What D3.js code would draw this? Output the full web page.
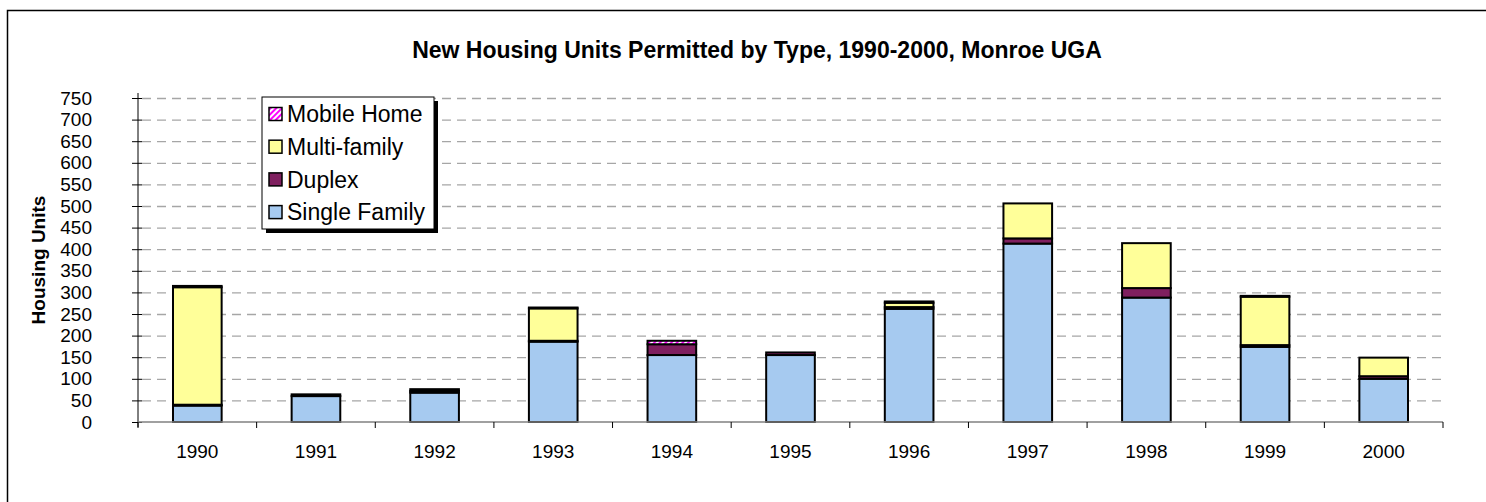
<!DOCTYPE html>
<html>
<head>
<meta charset="utf-8">
<script src="https://cdn.jsdelivr.net/npm/d3@7"></script>
<style>
  body { margin: 0; background: #fff; }
  svg { display: block; font-family: "Liberation Sans", Arial, sans-serif; }
</style>
</head>
<body>
<svg id="chart" width="1486" height="502"></svg>
<script>
const years = ["1990", "1991", "1992", "1993", "1994", "1995", "1996", "1997", "1998", "1999", "2000"];
const singleFamily = [38, 60, 68, 186, 155, 155, 262, 413, 288, 174, 100];
const duplex = [2, 4, 4, 2, 25, 6, 4, 12, 22, 4, 6];
const multiFamily = [272, 0, 0, 75, 0, 0, 10, 81, 104, 112, 43];
const mobileHome = [3, 0, 4, 2, 8, 0, 3, 0, 0, 2, 0];
const yTicks = d3.range(0, 751, 50);

const seriesKeys = ["Single Family", "Duplex", "Multi-family", "Mobile Home"];
const colors = {
  "Single Family": "#a6caf0",
  "Duplex": "#7f1f5f",
  "Multi-family": "#ffff99",
  "Mobile Home": "url(#mh)"
};

const rows = years.map((y, i) => ({
  year: y,
  "Single Family": singleFamily[i],
  "Duplex": duplex[i],
  "Multi-family": multiFamily[i],
  "Mobile Home": mobileHome[i]
}));

const svg = d3.select("#chart");

// striped fill for mobile homes
const defs = svg.append("defs");
const pat = defs.append("pattern")
    .attr("id", "mh")
    .attr("patternUnits", "userSpaceOnUse")
    .attr("width", 4)
    .attr("height", 4)
    .attr("patternTransform", "rotate(45)");
pat.append("rect").attr("width", 4).attr("height", 4).attr("fill", "#fff");
pat.append("rect").attr("width", 2).attr("height", 4).attr("fill", "#ff00ff");

// outer frame
svg.append("rect")
    .attr("x", 7.5).attr("y", 10.5)
    .attr("width", 1500).attr("height", 520)
    .attr("fill", "none")
    .attr("stroke", "#000")
    .attr("stroke-width", 1.5);

const plotLeft = 138, plotRight = 1443, plotTop = 98, plotBottom = 422;

const x = d3.scaleBand()
    .domain(years)
    .range([plotLeft, plotRight])
    .paddingInner(0.59)
    .paddingOuter(0.295);

const y = d3.scaleLinear()
    .domain([0, 750])
    .range([plotBottom, plotTop]);

// title
svg.append("text")
    .attr("x", 757).attr("y", 58)
    .attr("text-anchor", "middle")
    .attr("font-weight", "bold")
    .attr("font-size", 23)
    .text("New Housing Units Permitted by Type, 1990-2000, Monroe UGA");

// y label
svg.append("text")
    .attr("transform", `translate(38,${(plotTop + plotBottom) / 2}) rotate(-90)`)
    .attr("text-anchor", "middle")
    .attr("dy", "0.35em")
    .attr("font-weight", "bold")
    .attr("font-size", 19)
    .text("Housing Units");

// gridlines
svg.append("g")
    .selectAll("line")
    .data(yTicks.filter(d => d > 0))
    .join("line")
      .attr("x1", plotLeft + 4).attr("x2", plotRight)
      .attr("y1", d => y(d) + 0.5).attr("y2", d => y(d) + 0.5)
      .attr("stroke", "#a6a6a6")
      .attr("stroke-width", 1.3)
      .attr("stroke-dasharray", "9,6");

// y axis
const yAxis = svg.append("g")
    .attr("transform", `translate(${plotLeft},0)`)
    .call(d3.axisLeft(y).tickValues(yTicks).tickSize(6).tickPadding(40));
yAxis.select(".domain").remove();
yAxis.append("line")
    .attr("x1", 0).attr("x2", 0)
    .attr("y1", plotTop - 5).attr("y2", plotBottom + 5)
    .attr("stroke", "#000");
yAxis.selectAll(".tick line").attr("x2", -6).attr("x1", 4).attr("stroke", "#000");
yAxis.selectAll(".tick text").attr("font-size", 19).attr("fill", "#000")
    .attr("font-family", "Liberation Sans, Arial, sans-serif");

// stacked bars
const stack = d3.stack().keys(seriesKeys)(rows);
svg.append("g")
    .selectAll("g")
    .data(stack)
    .join("g")
      .attr("fill", d => colors[d.key])
    .selectAll("rect")
    .data(d => d.filter(p => p[1] > p[0]))
    .join("rect")
      .attr("x", p => x(p.data.year))
      .attr("y", p => y(p[1]))
      .attr("width", x.bandwidth())
      .attr("height", p => y(p[0]) - y(p[1]))
      .attr("stroke", "#000")
      .attr("stroke-width", 2);

// x axis
const xAxis = svg.append("g")
    .attr("transform", `translate(0,${plotBottom})`);
xAxis.append("line")
    .attr("x1", plotLeft).attr("x2", plotRight)
    .attr("stroke", "#808080")
    .attr("stroke-width", 1.5);
const bounds = years.map(d => x(d) - x.step() * x.paddingInner() / 2).concat([plotRight]);
xAxis.selectAll("line.tk")
    .data(bounds)
    .join("line")
      .attr("class", "tk")
      .attr("x1", d => d).attr("x2", d => d)
      .attr("y1", 0).attr("y2", 6)
      .attr("stroke", "#000");
xAxis.selectAll("text")
    .data(years)
    .join("text")
      .attr("x", d => x(d) + x.bandwidth() / 2)
      .attr("y", 36)
      .attr("text-anchor", "middle")
      .attr("font-size", 19)
      .text(d => d);

// legend
const lg = svg.append("g").attr("transform", "translate(262,97)");
lg.append("rect")
    .attr("x", 4).attr("y", 4).attr("width", 172).attr("height", 132)
    .attr("fill", "#000");
lg.append("rect")
    .attr("width", 172).attr("height", 132)
    .attr("fill", "#fff").attr("stroke", "#000");
const legendKeys = seriesKeys.slice().reverse();
const item = lg.selectAll("g.item")
    .data(legendKeys)
    .join("g")
      .attr("class", "item")
      .attr("transform", (d, i) => `translate(7,${17 + i * 32.7})`);
item.append("rect")
    .attr("x", 0).attr("y", -6.5)
    .attr("width", 13).attr("height", 13)
    .attr("fill", d => colors[d])
    .attr("stroke", "#000")
    .attr("stroke-width", 1.5);
item.append("text")
    .attr("x", 18)
    .attr("dy", "0.36em")
    .attr("font-size", 23)
    .text(d => d);
</script>
</body>
</html>
